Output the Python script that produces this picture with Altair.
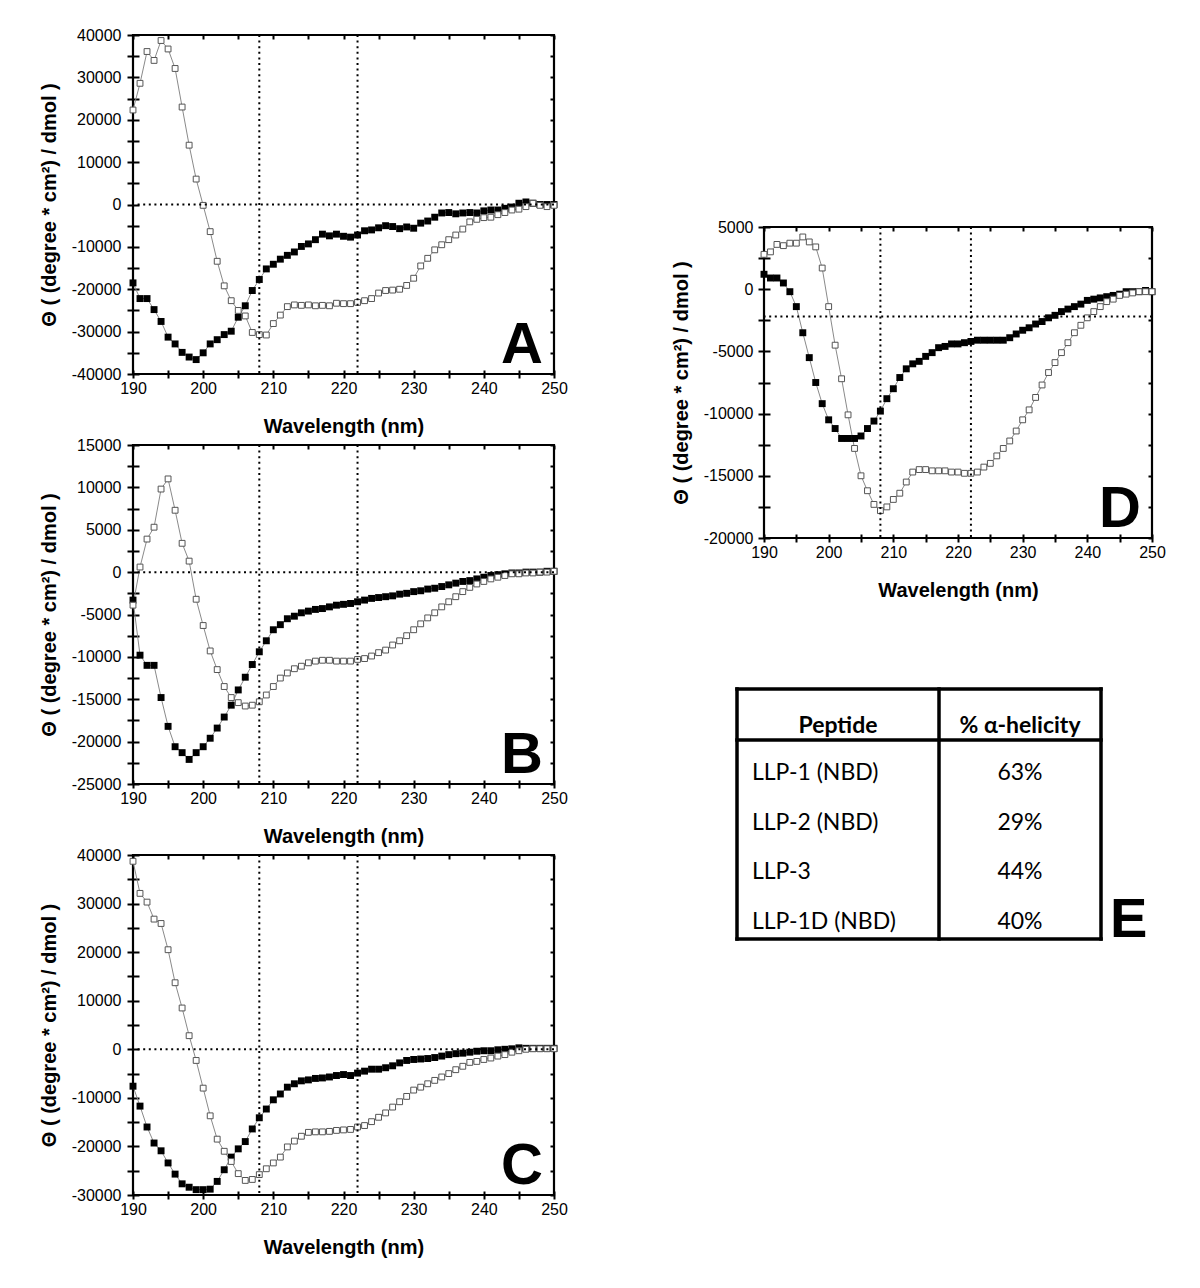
import altair as alt
import pandas as pd

WAVELENGTH = list(range(190, 251))

A_FILLED = [-18500, -22200, -22200, -24800, -27600, -31300, -32900, -34900, -36000, -36600,
            -35000, -32900, -31900, -30700, -29900, -26600, -23900, -20300, -17700, -15200,
            -14100, -12900, -12000, -11200, -9900, -9300, -8300, -7000, -7400, -7000,
            -7500, -7700, -7200, -6200, -6000, -5500, -5000, -5200, -5700, -5300,
            -5600, -4400, -3900, -3000, -2000, -1900, -2200, -2000, -1900, -2000,
            -1500, -1300, -1300, -900, -600, 300, 600, 300, 0, 0, 0]
A_OPEN = [22300, 28600, 36100, 34000, 38700, 36700, 32100, 23000, 14000, 6000,
          -200, -6400, -13400, -19200, -22700, -25000, -26300, -30200, -30700, -30800,
          -28100, -26100, -24100, -23700, -23800, -23700, -23900, -23800, -23900, -23300,
          -23400, -23400, -23100, -22700, -22200, -20900, -20300, -20200, -20000, -19100,
          -17400, -14500, -12700, -10700, -9500, -8300, -7200, -5800, -4100, -3500,
          -3100, -3000, -2400, -1900, -1300, -1100, -500, 300, -200, -500, -200]

B_FILLED = [-3300, -9800, -11000, -11000, -14800, -18200, -20600, -21300, -22100, -21300,
            -20600, -19600, -18400, -17100, -15700, -13900, -12400, -10900, -9400, -8100,
            -6800, -6200, -5500, -5200, -4800, -4600, -4400, -4300, -4100, -3900,
            -3800, -3700, -3500, -3300, -3100, -3000, -2900, -2800, -2600, -2500,
            -2300, -2200, -2000, -1900, -1700, -1500, -1300, -1100, -1000, -800,
            -600, -400, -300, -200, -100, -100, 0, 0, 0, 100, 100]
B_OPEN = [-3900, 600, 3900, 5300, 9800, 11000, 7300, 3400, 1300, -3200,
          -6300, -9300, -11500, -13500, -14800, -15400, -15800, -15700, -15300, -14500,
          -13500, -12500, -11900, -11400, -11100, -10700, -10500, -10400, -10400, -10500,
          -10500, -10500, -10300, -10200, -9900, -9500, -9200, -8600, -8100, -7500,
          -6800, -6100, -5400, -4800, -4100, -3500, -2900, -2300, -1800, -1400,
          -1100, -800, -600, -400, -200, -200, -100, -100, 0, 0, 100]

C_FILLED = [-7600, -11700, -16000, -19300, -20900, -23400, -25700, -27700, -28400, -28900,
            -28900, -28800, -27200, -24800, -22200, -20500, -19000, -16400, -14100, -12300,
            -10400, -9200, -7800, -7100, -6500, -6300, -6000, -5900, -5700, -5400,
            -5200, -5400, -4900, -4500, -4100, -4100, -3800, -3400, -2800, -2300,
            -2100, -2000, -1900, -1700, -1400, -1100, -900, -800, -600, -400,
            -300, -300, -100, 0, 100, 300, 200, 200, 200, 200, 200]
C_OPEN = [38700, 32100, 30300, 26800, 25900, 20500, 13700, 8500, 2800, -2300,
          -8000, -13700, -18500, -21000, -23100, -25600, -27000, -26800, -25800, -24600,
          -23400, -22200, -20100, -18900, -17900, -17100, -17000, -17000, -16900, -16700,
          -16600, -16500, -16000, -15700, -14900, -14000, -13100, -11900, -10800, -9700,
          -8400, -7800, -7100, -6400, -5700, -5000, -4200, -3500, -2700, -2500,
          -2100, -1800, -1400, -1100, -600, -300, 0, 100, 100, 100, 100]

D_FILLED = [1200, 900, 900, 500, -200, -1400, -3500, -5500, -7500, -9200,
            -10500, -11200, -12000, -12000, -12000, -11800, -11200, -10600, -9800, -8800,
            -8000, -7100, -6400, -6000, -5800, -5400, -5100, -4700, -4600, -4400,
            -4400, -4300, -4200, -4100, -4100, -4100, -4100, -4100, -3900, -3600,
            -3300, -3100, -2800, -2600, -2300, -2100, -1800, -1600, -1400, -1200,
            -900, -800, -700, -600, -500, -400, -200, -200, -200, -100, -200]
D_OPEN = [2800, 3000, 3600, 3500, 3700, 3700, 4200, 3800, 3400, 1700,
          -1400, -4500, -7200, -10100, -12800, -15000, -16200, -17300, -17800, -17500,
          -16900, -16400, -15500, -14700, -14500, -14500, -14600, -14600, -14600, -14700,
          -14700, -14800, -14800, -14700, -14300, -14000, -13400, -12800, -12200, -11400,
          -10500, -9700, -8700, -7700, -6700, -5900, -5100, -4300, -3500, -2900,
          -2300, -1800, -1400, -1000, -800, -500, -400, -300, -200, -200, -200]

MARKER_LINES = [208, 222]
TABLE_HEADERS = ["Peptide", "% α-helicity"]
PEPTIDES = ["LLP-1 (NBD)", "LLP-2 (NBD)", "LLP-3", "LLP-1D (NBD)"]
HELICITY = ["63%", "29%", "44%", "40%"]

FONT = "Liberation Sans"
TFONT = "Lato"
Y_TITLE = "Θ ( (degree * cm²) / dmol )"
X_TITLE = "Wavelength (nm)"


def panel(filled, opened, ydom, ystep, lstep, hline, letter, W, H, ylabpad):
    df = pd.DataFrame({"wl": WAVELENGTH, "filled": filled, "open": opened})
    xs = alt.Scale(domain=[190, 250], nice=False, zero=False)
    ys = alt.Scale(domain=ydom, nice=False, zero=False)
    xvals = list(range(190, 251, 5))
    yvals = list(range(ydom[0], ydom[1] + 1, ystep))
    common = dict(domain=False, grid=False, tickColor="black", tickWidth=2)
    x_main = alt.Axis(orient="bottom", offset=-4, tickSize=8, values=xvals,
                      labelExpr="datum.value % 10 === 0 ? '' + datum.value : ''",
                      labelFont=FONT, labelFontSize=16, labelColor="black", labelPadding=2,
                      labelFlush=False, labelOverlap=False,
                      title=X_TITLE, titleFont=FONT, titleFontSize=20, titleFontWeight="bold",
                      titleColor="black", titlePadding=20, **common)
    y_main = alt.Axis(orient="left", offset=-6, tickSize=12, values=yvals,
                      labelExpr=f"datum.value % {lstep} === 0 ? '' + datum.value : ''",
                      labelFont=FONT, labelFontSize=16, labelColor="black", labelPadding=ylabpad,
                      labelFlush=False, labelOverlap=False,
                      title=Y_TITLE, titleFont=FONT, titleFontSize=20, titleFontWeight="bold",
                      titleColor="black", titlePadding=12, **common)
    x_top = alt.Axis(orient="bottom", offset=-H, tickSize=4, values=xvals, labels=False,
                     title=None, **common)
    y_right = alt.Axis(orient="left", offset=-W, tickSize=4, values=yvals, labels=False,
                       title=None, **common)

    base = alt.Chart(df)
    line_f = base.mark_line(color="#8a8a8a", strokeWidth=1).encode(
        x=alt.X("wl:Q", scale=xs, axis=x_main),
        y=alt.Y("filled:Q", scale=ys, axis=y_main))
    line_o = base.mark_line(color="#8a8a8a", strokeWidth=1).encode(
        x=alt.X("wl:Q", scale=xs, axis=x_top),
        y=alt.Y("open:Q", scale=ys, axis=y_right))
    pts_f = base.mark_point(shape="square", filled=True, color="black", size=48, opacity=1).encode(
        x=alt.X("wl:Q", axis=None), y=alt.Y("filled:Q", axis=None))
    pts_o = base.mark_point(shape="square", fill="white", stroke="#555555", strokeWidth=1,
                            size=34, opacity=1, filled=False).encode(
        x=alt.X("wl:Q", axis=None), y=alt.Y("open:Q", axis=None))
    vr = alt.Chart(pd.DataFrame({"v": MARKER_LINES})).mark_rule(
        color="black", strokeWidth=2, strokeDash=[2, 3.6]).encode(x=alt.X("v:Q", axis=None))
    hr = alt.Chart(pd.DataFrame({"h": [hline]})).mark_rule(
        color="black", strokeWidth=2, strokeDash=[2, 3.6]).encode(y=alt.Y("h:Q", axis=None))
    lab = alt.Chart(pd.DataFrame({"t": [letter]})).mark_text(
        font=FONT, fontSize=58, fontWeight="bold", color="black", align="right",
        baseline="alphabetic").encode(text="t:N", x=alt.value(W - 11), y=alt.value(H - 11))
    return alt.layer(line_f, line_o, pts_f, pts_o, vr, hr, lab).resolve_axis(
        x="independent", y="independent").properties(width=W, height=H)


pA = panel(A_FILLED, A_OPEN, [-40000, 40000], 5000, 10000, 0, "A", 421, 339, 6)
pB = panel(B_FILLED, B_OPEN, [-25000, 15000], 2500, 5000, 0, "B", 421, 339, 6)
pC = panel(C_FILLED, C_OPEN, [-30000, 40000], 5000, 10000, 0, "C", 421, 340, 6)
pD = panel(D_FILLED, D_OPEN, [-20000, 5000], 2500, 5000, -2200, "D", 388, 311, 5)

# ---- table E ----
TW, TH = 446, 254
L, R, T, B, DIV, HDR = 2, 366, 2, 252, 204, 53
tx = alt.Scale(domain=[0, TW], nice=False, zero=False)
ty = alt.Scale(domain=[0, TH], nice=False, zero=False, reverse=True)
borders = pd.DataFrame({
    "x": [L, R, L, L, L, DIV], "x2": [L, R, R, R, R, DIV],
    "y": [T, T, T, B, HDR, T], "y2": [B, B, T, B, HDR, B]})
rules = alt.Chart(borders).mark_rule(color="black", strokeWidth=3.5, strokeCap="square").encode(
    x=alt.X("x:Q", scale=tx, axis=None), x2="x2:Q",
    y=alt.Y("y:Q", scale=ty, axis=None), y2="y2:Q")
hdr_df = pd.DataFrame({"t": TABLE_HEADERS, "x": [(L + DIV) / 2, (DIV + R) / 2], "y": [46, 46]})
hdr = alt.Chart(hdr_df).mark_text(font=TFONT, fontSize=23, fontWeight="bold", color="black",
                                  align="center", baseline="alphabetic").encode(
    text="t:N", x=alt.X("x:Q", scale=tx, axis=None), y=alt.Y("y:Q", scale=ty, axis=None))
row_y = [93 + 49.7 * i for i in range(len(PEPTIDES))]
names = alt.Chart(pd.DataFrame({"t": PEPTIDES, "y": row_y})).mark_text(
    font=TFONT, fontSize=23, color="black", align="left", baseline="alphabetic").encode(
    text="t:N", x=alt.value(17), y=alt.Y("y:Q", scale=ty, axis=None))
vals = alt.Chart(pd.DataFrame({"t": HELICITY, "y": row_y})).mark_text(
    font=TFONT, fontSize=23, color="black", align="center", baseline="alphabetic").encode(
    text="t:N", x=alt.value((DIV + R) / 2), y=alt.Y("y:Q", scale=ty, axis=None))
eletter = alt.Chart(pd.DataFrame({"t": ["E"]})).mark_text(
    font=FONT, fontSize=56, fontWeight="bold", color="black", align="left",
    baseline="alphabetic").encode(text="t:N", x=alt.value(375), y=alt.value(250))
table = alt.layer(rules, hdr, names, vals, eletter).properties(
    width=TW, height=TH, view=alt.ViewBackground(strokeOpacity=0))

spacer = alt.Chart(pd.DataFrame({"a": [0]})).mark_point(opacity=0).encode(
    x=alt.value(0), y=alt.value(0)).properties(
    width=10, height=43, view=alt.ViewBackground(strokeOpacity=0))

left = alt.vconcat(pA, pB, pC, spacing=71, bounds="flush")
right = alt.vconcat(spacer, pD, table, spacing=149, bounds="flush", center=True)

chart = alt.hconcat(left, right, spacing=602, bounds="flush").properties(
    padding={"left": 30, "top": 17, "right": 5, "bottom": 5},
    background="white"
).configure_view(stroke="black", strokeWidth=2.2)

chart.save("out.html", embed_options={"renderer": "svg", "actions": False})
